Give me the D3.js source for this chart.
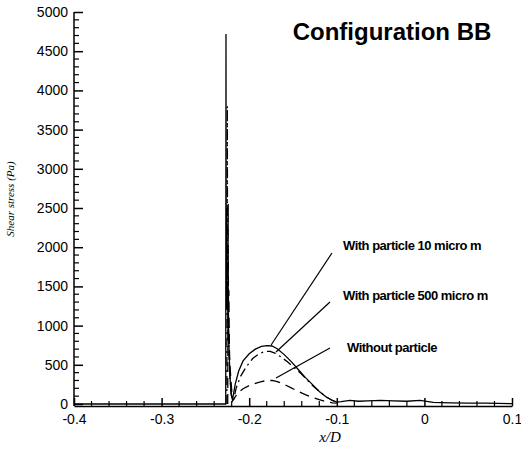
<!DOCTYPE html>
<html>
<head lang="en">
    <meta charset="UTF-8">
    <title>Configuration BB</title>
    <script src="https://d3js.org/d3.v7.min.js" charset="utf-8"></script>
    <style>
        body { margin: 0; background: #fff; }
        #chart { width: 521px; height: 452px; }
        .tick text { font-family: Arial, "Liberation Sans", sans-serif; font-size: 14px; fill: #000; }
    </style>
</head>
<body>
<div id="chart"></div>
<script>
    // x/D positions and shear stress (Pa) for each case
    var x10 = [-0.4, -0.2268, -0.2265, -0.2262, -0.2257, -0.2252, -0.2246, -0.224, -0.223, -0.222, -0.2205, -0.219, -0.216, -0.212, -0.207, -0.2, -0.193, -0.186, -0.18, -0.174, -0.168, -0.16, -0.152, -0.144, -0.136, -0.128, -0.12, -0.112, -0.105, -0.1, -0.095, -0.085, -0.075, -0.065, -0.05, -0.035, -0.02, -0.005, 0.01, 0.03, 0.05, 0.07, 0.1];
    var y10 = [0, 0, 4720, 1500, 2500, 1200, 1450, 900, 700, 350, 120, 60, 250, 420, 550, 640, 700, 735, 745, 740, 705, 630, 540, 440, 340, 250, 160, 90, 45, 25, 30, 45, 35, 40, 45, 40, 35, 45, 20, 15, 10, 10, 5];

    var x500 = [-0.2255, -0.225, -0.2246, -0.2242, -0.2238, -0.2234, -0.223, -0.222, -0.2205, -0.219, -0.2175, -0.215, -0.21, -0.203, -0.196, -0.189, -0.182, -0.176, -0.17, -0.163, -0.156, -0.149, -0.142, -0.135, -0.128, -0.12, -0.112, -0.105, -0.1];
    var y500 = [0, 3800, 1200, 1900, 800, 1000, 600, 350, 120, 40, 60, 200, 350, 480, 580, 640, 670, 670, 645, 595, 535, 465, 400, 320, 240, 160, 90, 45, 25];

    var x0 = [-0.2245, -0.224, -0.2236, -0.2232, -0.2226, -0.222, -0.2205, -0.219, -0.216, -0.212, -0.207, -0.2, -0.193, -0.186, -0.18, -0.174, -0.168, -0.16, -0.152, -0.144, -0.136, -0.128, -0.12, -0.112, -0.105, -0.1];
    var y0 = [0, 2550, 900, 1450, 700, 500, 250, 40, 90, 150, 195, 235, 262, 285, 300, 300, 285, 250, 205, 160, 120, 85, 55, 30, 15, 10];

    var xTicks = [-0.4, -0.3, -0.2, -0.1, 0, 0.1];
    var yTicks = [0, 500, 1000, 1500, 2000, 2500, 3000, 3500, 4000, 4500, 5000];
    var labels = ["With particle 10 micro m", "With particle 500 micro m", "Without particle"];

    var w = 521, h = 452;
    var svg = d3.select("#chart").append("svg").attr("width", w).attr("height", h);

    var x = d3.scaleLinear().domain([-0.4, 0.1]).range([74, 512]);
    var y = d3.scaleLinear().domain([0, 5000]).range([404, 12]);
    var yBottom = 406;

    // minor ticks
    var xMinor = d3.range(-0.4, 0.1001, 0.02).filter(function(d) { return Math.abs(Math.round(d * 10) - d * 10) > 0.01; });
    var yMinor = d3.range(0, 5001, 100).filter(function(d) { return d % 500 != 0; });

    var xAxis = svg.append("g").attr("transform", "translate(0," + yBottom + ")")
        .call(d3.axisBottom(x).tickValues(xTicks).tickSize(0).tickPadding(8)
            .tickFormat(function(d) { return d == 0 ? "0" : d.toFixed(1); }));
    xAxis.select(".domain").attr("stroke", "#000").attr("stroke-width", 1.5);
    xAxis.selectAll(".tick").append("line").attr("y1", 0).attr("y2", -8).attr("stroke", "#000").attr("stroke-width", 1.5);
    xAxis.selectAll(".minor").data(xMinor).enter().append("line")
        .attr("x1", function(d) { return x(d); }).attr("x2", function(d) { return x(d); })
        .attr("y1", 0).attr("y2", -5).attr("stroke", "#000").attr("stroke-width", 1.2);

    var yAxis = svg.append("g").attr("transform", "translate(74,0)")
        .call(d3.axisLeft(y).tickValues(yTicks).tickSize(0).tickPadding(6).tickFormat(d3.format("d")));
    yAxis.select(".domain").attr("stroke", "#000").attr("stroke-width", 1.5).attr("d", "M0," + yBottom + "V" + y(5000));
    yAxis.selectAll(".tick").append("line").attr("x1", 0).attr("x2", 9).attr("stroke", "#000").attr("stroke-width", 1.5);
    yAxis.selectAll(".minor").data(yMinor).enter().append("line")
        .attr("y1", function(d) { return y(d); }).attr("y2", function(d) { return y(d); })
        .attr("x1", 0).attr("x2", 5).attr("stroke", "#000").attr("stroke-width", 1.2);

    function draw(xs, ys, dash) {
        var line = d3.line().x(function(d) { return x(d[0]); }).y(function(d) { return y(d[1]); });
        svg.append("path").datum(d3.zip(xs, ys))
            .attr("d", line)
            .attr("fill", "none")
            .attr("stroke", "#000")
            .attr("stroke-width", 1.3)
            .attr("stroke-dasharray", dash);
    }
    draw(x0, y0, "10,6");
    draw(x500, y500, "9,4,2,4");
    draw(x10, y10, null);

    // leader lines from labels to curves (x/D, Pa)
    var leaders = [
        [[-0.1055, 1926], [-0.175, 753]],
        [[-0.1078, 1301], [-0.1694, 663]],
        [[-0.1078, 714], [-0.1694, 332]]
    ];
    svg.selectAll(".leader").data(leaders).enter().append("line")
        .attr("x1", function(d) { return x(d[0][0]); }).attr("y1", function(d) { return y(d[0][1]); })
        .attr("x2", function(d) { return x(d[1][0]); }).attr("y2", function(d) { return y(d[1][1]); })
        .attr("stroke", "#000").attr("stroke-width", 1.2);

    var labelPos = [[343, 250], [343, 300], [347, 352]];
    svg.selectAll(".lab").data(labels).enter().append("text")
        .attr("x", function(d, i) { return labelPos[i][0]; })
        .attr("y", function(d, i) { return labelPos[i][1]; })
        .style("font-family", "Arial, 'Liberation Sans', sans-serif")
        .style("font-size", "13px").style("font-weight", "bold").style("letter-spacing", "-0.5px")
        .text(function(d) { return d; });

    svg.append("text").attr("x", 392).attr("y", 40).attr("text-anchor", "middle")
        .style("font-family", "Arial, 'Liberation Sans', sans-serif")
        .style("font-size", "24px").style("font-weight", "bold")
        .text("Configuration BB");

    svg.append("text").attr("x", 330).attr("y", 442).attr("text-anchor", "middle")
        .style("font-family", "'Liberation Serif', 'DejaVu Serif', serif")
        .style("font-size", "15px").style("font-style", "italic")
        .text("x/D");

    svg.append("text").attr("transform", "translate(14,199) rotate(-90)").attr("text-anchor", "middle")
        .style("font-family", "'Liberation Serif', 'DejaVu Serif', serif")
        .style("font-size", "11px").style("font-style", "italic")
        .text("Shear stress (Pa)");
</script>
</body>
</html>
